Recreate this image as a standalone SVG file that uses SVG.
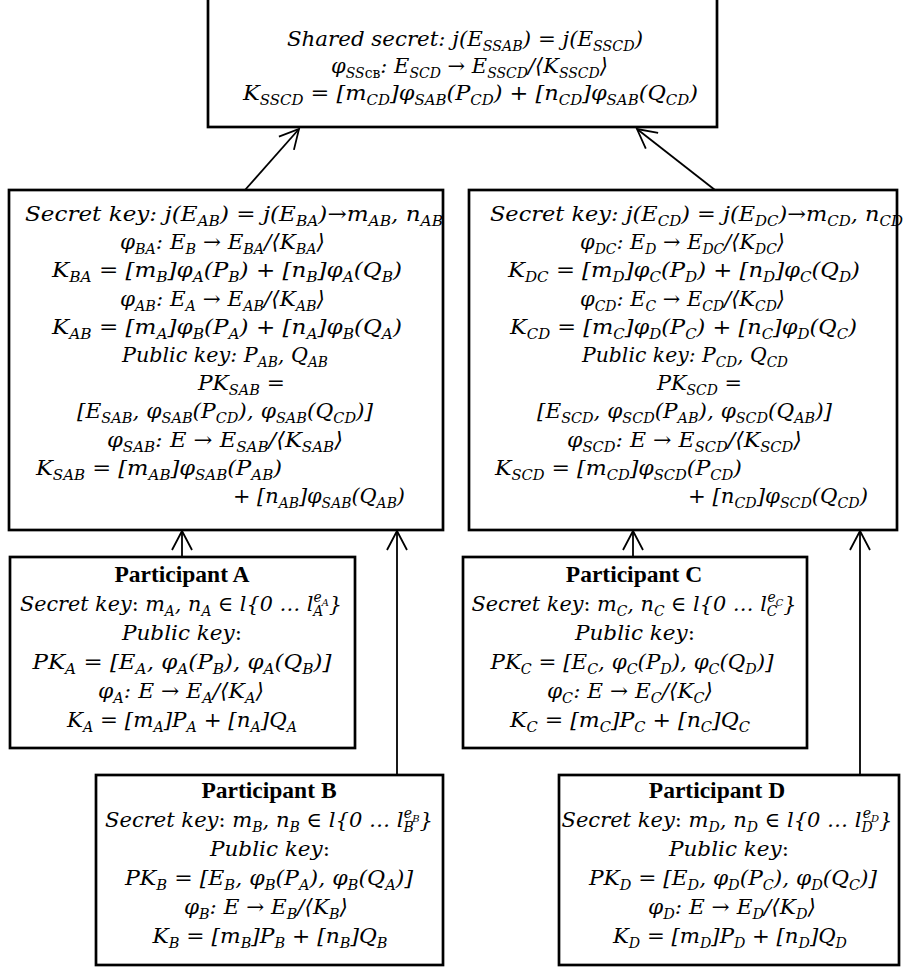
<svg xmlns="http://www.w3.org/2000/svg" width="903" height="969" viewBox="0 0 903 969">
<style>
.box{fill:#fff;stroke:#000;stroke-width:2.7}
.m{font-family:"DejaVu Serif","Liberation Serif",serif;font-style:italic;font-size:21px;fill:#000}
.mc{text-anchor:middle}
.b{font-size:14px;baseline-shift:-5px}
.u{font-style:normal}
.p{font-size:14px;baseline-shift:9px}
.pb{font-size:10px;baseline-shift:5px}
.t{font-family:"Liberation Serif","Times New Roman",serif;font-weight:bold;font-size:23.5px;text-anchor:middle;fill:#000}
.c{fill:none;stroke:#000;stroke-width:1.8}
</style>
<defs>
<marker id="ah" viewBox="-21 -12 23 24" refX="0" refY="0" markerWidth="23" markerHeight="24" markerUnits="userSpaceOnUse" orient="auto">
<path d="M-19,-10 L0,0 L-19,10" fill="none" stroke="#000" stroke-width="1.8"/>
</marker>
</defs>

<g id="shared-secret">
<rect class="box" x="208" y="-2" width="509" height="129"/>
<text class="m" x="287" y="46" textLength="356" lengthAdjust="spacingAndGlyphs">Shared secret: j(E<tspan class="b">SSAB</tspan>) = j(E<tspan class="b">SSCD</tspan>)</text>
<text class="m" x="331" y="73" textLength="277" lengthAdjust="spacingAndGlyphs">φ<tspan class="b">SS<tspan class="u">св</tspan></tspan>: E<tspan class="b">SCD</tspan> → E<tspan class="b">SSCD</tspan>/⟨K<tspan class="b">SSCD</tspan>⟩</text>
<text class="m" x="243" y="100" textLength="455" lengthAdjust="spacingAndGlyphs">K<tspan class="b">SSCD</tspan> = [m<tspan class="b">CD</tspan>]φ<tspan class="b">SAB</tspan>(P<tspan class="b">CD</tspan>)  + [n<tspan class="b">CD</tspan>]φ<tspan class="b">SAB</tspan>(Q<tspan class="b">CD</tspan>)</text>
</g>

<g id="group-ab">
<rect class="box" x="9" y="190" width="434" height="340"/>
<text class="m" x="25" y="221" textLength="418" lengthAdjust="spacingAndGlyphs">Secret key: j(E<tspan class="b">AB</tspan>)  = j(E<tspan class="b">BA</tspan>)→m<tspan class="b">AB</tspan>, n<tspan class="b">AB</tspan></text>
<text class="m" x="120" y="249" textLength="205" lengthAdjust="spacingAndGlyphs">φ<tspan class="b">BA</tspan>: E<tspan class="b">B</tspan> → E<tspan class="b">BA</tspan>/⟨K<tspan class="b">BA</tspan>⟩</text>
<text class="m" x="52" y="277" textLength="350" lengthAdjust="spacingAndGlyphs">K<tspan class="b">BA</tspan> = [m<tspan class="b">B</tspan>]φ<tspan class="b">A</tspan>(P<tspan class="b">B</tspan>)  + [n<tspan class="b">B</tspan>]φ<tspan class="b">A</tspan>(Q<tspan class="b">B</tspan>)</text>
<text class="m" x="120" y="306" textLength="205" lengthAdjust="spacingAndGlyphs">φ<tspan class="b">AB</tspan>: E<tspan class="b">A</tspan> → E<tspan class="b">AB</tspan>/⟨K<tspan class="b">AB</tspan>⟩</text>
<text class="m" x="52" y="334" textLength="350" lengthAdjust="spacingAndGlyphs">K<tspan class="b">AB</tspan> = [m<tspan class="b">A</tspan>]φ<tspan class="b">B</tspan>(P<tspan class="b">A</tspan>)  + [n<tspan class="b">A</tspan>]φ<tspan class="b">B</tspan>(Q<tspan class="b">A</tspan>)</text>
<text class="m" x="122" y="362" textLength="206" lengthAdjust="spacingAndGlyphs">Public key: P<tspan class="b">AB</tspan>, Q<tspan class="b">AB</tspan></text>
<text class="m" x="198" y="390" textLength="87" lengthAdjust="spacingAndGlyphs">PK<tspan class="b">SAB</tspan> =</text>
<text class="m" x="77" y="418" textLength="296" lengthAdjust="spacingAndGlyphs">[E<tspan class="b">SAB</tspan>, φ<tspan class="b">SAB</tspan>(P<tspan class="b">CD</tspan>), φ<tspan class="b">SAB</tspan>(Q<tspan class="b">CD</tspan>)]</text>
<text class="m" x="107" y="447" textLength="236" lengthAdjust="spacingAndGlyphs">φ<tspan class="b">SAB</tspan>: E → E<tspan class="b">SAB</tspan>/⟨K<tspan class="b">SAB</tspan>⟩</text>
<text class="m" x="36" y="475" textLength="246" lengthAdjust="spacingAndGlyphs">K<tspan class="b">SAB</tspan> = [m<tspan class="b">AB</tspan>]φ<tspan class="b">SAB</tspan>(P<tspan class="b">AB</tspan>)</text>
<text class="m" x="233" y="503" textLength="172" lengthAdjust="spacingAndGlyphs">+ [n<tspan class="b">AB</tspan>]φ<tspan class="b">SAB</tspan>(Q<tspan class="b">AB</tspan>)</text>
</g>

<g id="group-cd">
<rect class="box" x="469" y="190" width="428" height="340"/>
<text class="m" x="490" y="221" textLength="413" lengthAdjust="spacingAndGlyphs">Secret key: j(E<tspan class="b">CD</tspan>)  = j(E<tspan class="b">DC</tspan>)→m<tspan class="b">CD</tspan>, n<tspan class="b">CD</tspan></text>
<text class="m" x="580" y="249" textLength="205" lengthAdjust="spacingAndGlyphs">φ<tspan class="b">DC</tspan>: E<tspan class="b">D</tspan> → E<tspan class="b">DC</tspan>/⟨K<tspan class="b">DC</tspan>⟩</text>
<text class="m" x="508" y="277" textLength="352" lengthAdjust="spacingAndGlyphs">K<tspan class="b">DC</tspan> = [m<tspan class="b">D</tspan>]φ<tspan class="b">C</tspan>(P<tspan class="b">D</tspan>)  + [n<tspan class="b">D</tspan>]φ<tspan class="b">C</tspan>(Q<tspan class="b">D</tspan>)</text>
<text class="m" x="580" y="306" textLength="205" lengthAdjust="spacingAndGlyphs">φ<tspan class="b">CD</tspan>: E<tspan class="b">C</tspan> → E<tspan class="b">CD</tspan>/⟨K<tspan class="b">CD</tspan>⟩</text>
<text class="m" x="510" y="334" textLength="347" lengthAdjust="spacingAndGlyphs">K<tspan class="b">CD</tspan> = [m<tspan class="b">C</tspan>]φ<tspan class="b">D</tspan>(P<tspan class="b">C</tspan>)  + [n<tspan class="b">C</tspan>]φ<tspan class="b">D</tspan>(Q<tspan class="b">C</tspan>)</text>
<text class="m" x="582" y="362" textLength="206" lengthAdjust="spacingAndGlyphs">Public key: P<tspan class="b">CD</tspan>, Q<tspan class="b">CD</tspan></text>
<text class="m" x="657" y="390" textLength="85" lengthAdjust="spacingAndGlyphs">PK<tspan class="b">SCD</tspan> =</text>
<text class="m" x="537" y="418" textLength="295" lengthAdjust="spacingAndGlyphs">[E<tspan class="b">SCD</tspan>, φ<tspan class="b">SCD</tspan>(P<tspan class="b">AB</tspan>), φ<tspan class="b">SCD</tspan>(Q<tspan class="b">AB</tspan>)]</text>
<text class="m" x="567" y="447" textLength="235" lengthAdjust="spacingAndGlyphs">φ<tspan class="b">SCD</tspan>: E → E<tspan class="b">SCD</tspan>/⟨K<tspan class="b">SCD</tspan>⟩</text>
<text class="m" x="495" y="475" textLength="247" lengthAdjust="spacingAndGlyphs">K<tspan class="b">SCD</tspan> = [m<tspan class="b">CD</tspan>]φ<tspan class="b">SCD</tspan>(P<tspan class="b">CD</tspan>)</text>
<text class="m" x="688" y="503" textLength="180" lengthAdjust="spacingAndGlyphs">+ [n<tspan class="b">CD</tspan>]φ<tspan class="b">SCD</tspan>(Q<tspan class="b">CD</tspan>)</text>
</g>

<g id="participant-a">
<rect class="box" x="10" y="557" width="345" height="191"/>
<text class="t" x="182" y="582">Participant A</text>
<text class="m mc" x="181" y="611" textLength="322" lengthAdjust="spacingAndGlyphs">Secret key<tspan class="u">:</tspan>  m<tspan class="b">A</tspan>, n<tspan class="b">A</tspan> ∈ l{0 … l<tspan class="b">A</tspan><tspan class="p" dx="-10">e</tspan><tspan class="pb">A</tspan>}</text>
<text class="m mc" x="182" y="640" textLength="120" lengthAdjust="spacingAndGlyphs">Public key<tspan class="u">:</tspan></text>
<text class="m mc" x="182" y="669" textLength="299" lengthAdjust="spacingAndGlyphs">PK<tspan class="b">A</tspan>  =  [E<tspan class="b">A</tspan>, φ<tspan class="b">A</tspan>(P<tspan class="b">B</tspan>), φ<tspan class="b">A</tspan>(Q<tspan class="b">B</tspan>)]</text>
<text class="m mc" x="181" y="698" textLength="166" lengthAdjust="spacingAndGlyphs">φ<tspan class="b">A</tspan>: E → E<tspan class="b">A</tspan>/⟨K<tspan class="b">A</tspan>⟩</text>
<text class="m mc" x="182" y="727" textLength="230" lengthAdjust="spacingAndGlyphs">K<tspan class="b">A</tspan>  = [m<tspan class="b">A</tspan>]P<tspan class="b">A</tspan> + [n<tspan class="b">A</tspan>]Q<tspan class="b">A</tspan></text>
</g>

<g id="participant-b">
<rect class="box" x="96" y="775" width="347" height="190"/>
<text class="t" x="269" y="798">Participant B</text>
<text class="m mc" x="269" y="827" textLength="328" lengthAdjust="spacingAndGlyphs">Secret key<tspan class="u">:</tspan>  m<tspan class="b">B</tspan>, n<tspan class="b">B</tspan> ∈ l{0 … l<tspan class="b">B</tspan><tspan class="p" dx="-10">e</tspan><tspan class="pb">B</tspan>}</text>
<text class="m mc" x="270" y="856" textLength="120" lengthAdjust="spacingAndGlyphs">Public key<tspan class="u">:</tspan></text>
<text class="m mc" x="269" y="885" textLength="288" lengthAdjust="spacingAndGlyphs">PK<tspan class="b">B</tspan> = [E<tspan class="b">B</tspan>, φ<tspan class="b">B</tspan>(P<tspan class="b">A</tspan>), φ<tspan class="b">B</tspan>(Q<tspan class="b">A</tspan>)]</text>
<text class="m mc" x="266" y="914" textLength="164" lengthAdjust="spacingAndGlyphs">φ<tspan class="b">B</tspan>: E → E<tspan class="b">B</tspan>/⟨K<tspan class="b">B</tspan>⟩</text>
<text class="m mc" x="270" y="943" textLength="235" lengthAdjust="spacingAndGlyphs">K<tspan class="b">B</tspan> = [m<tspan class="b">B</tspan>]P<tspan class="b">B</tspan> + [n<tspan class="b">B</tspan>]Q<tspan class="b">B</tspan></text>
</g>

<g id="participant-c">
<rect class="box" x="463" y="557" width="344" height="191"/>
<text class="t" x="634" y="582">Participant C</text>
<text class="m mc" x="634" y="611" textLength="325" lengthAdjust="spacingAndGlyphs">Secret key<tspan class="u">:</tspan>  m<tspan class="b">C</tspan>, n<tspan class="b">C</tspan> ∈ l{0 … l<tspan class="b">C</tspan><tspan class="p" dx="-10">e</tspan><tspan class="pb">C</tspan>}</text>
<text class="m mc" x="635" y="640" textLength="120" lengthAdjust="spacingAndGlyphs">Public key<tspan class="u">:</tspan></text>
<text class="m mc" x="632" y="669" textLength="283" lengthAdjust="spacingAndGlyphs">PK<tspan class="b">C</tspan> = [E<tspan class="b">C</tspan>, φ<tspan class="b">C</tspan>(P<tspan class="b">D</tspan>), φ<tspan class="b">C</tspan>(Q<tspan class="b">D</tspan>)]</text>
<text class="m mc" x="630" y="698" textLength="166" lengthAdjust="spacingAndGlyphs">φ<tspan class="b">C</tspan>: E → E<tspan class="b">C</tspan>/⟨K<tspan class="b">C</tspan>⟩</text>
<text class="m mc" x="630" y="727" textLength="240" lengthAdjust="spacingAndGlyphs">K<tspan class="b">C</tspan> = [m<tspan class="b">C</tspan>]P<tspan class="b">C</tspan> + [n<tspan class="b">C</tspan>]Q<tspan class="b">C</tspan></text>
</g>

<g id="participant-d">
<rect class="box" x="559" y="775" width="340" height="190"/>
<text class="t" x="717" y="798">Participant D</text>
<text class="m mc" x="727" y="827" textLength="331" lengthAdjust="spacingAndGlyphs">Secret key<tspan class="u">:</tspan>  m<tspan class="b">D</tspan>, n<tspan class="b">D</tspan> ∈ l{0 … l<tspan class="b">D</tspan><tspan class="p" dx="-10">e</tspan><tspan class="pb">D</tspan>}</text>
<text class="m mc" x="729" y="856" textLength="120" lengthAdjust="spacingAndGlyphs">Public key<tspan class="u">:</tspan></text>
<text class="m mc" x="733" y="885" textLength="288" lengthAdjust="spacingAndGlyphs">PK<tspan class="b">D</tspan> = [E<tspan class="b">D</tspan>, φ<tspan class="b">D</tspan>(P<tspan class="b">C</tspan>), φ<tspan class="b">D</tspan>(Q<tspan class="b">C</tspan>)]</text>
<text class="m mc" x="732" y="914" textLength="168" lengthAdjust="spacingAndGlyphs">φ<tspan class="b">D</tspan>: E → E<tspan class="b">D</tspan>/⟨K<tspan class="b">D</tspan>⟩</text>
<text class="m mc" x="730" y="943" textLength="234" lengthAdjust="spacingAndGlyphs">K<tspan class="b">D</tspan> = [m<tspan class="b">D</tspan>]P<tspan class="b">D</tspan> + [n<tspan class="b">D</tspan>]Q<tspan class="b">D</tspan></text>
</g>

<g id="connectors">
<line class="c" x1="245" y1="190" x2="299" y2="129" marker-end="url(#ah)"/>
<line class="c" x1="715" y1="190" x2="637" y2="129" marker-end="url(#ah)"/>
<line class="c" x1="182" y1="557" x2="182" y2="531" marker-end="url(#ah)"/>
<line class="c" x1="397" y1="775" x2="397" y2="531" marker-end="url(#ah)"/>
<line class="c" x1="633" y1="557" x2="633" y2="531" marker-end="url(#ah)"/>
<line class="c" x1="860" y1="775" x2="860" y2="531" marker-end="url(#ah)"/>
</g>
</svg>
